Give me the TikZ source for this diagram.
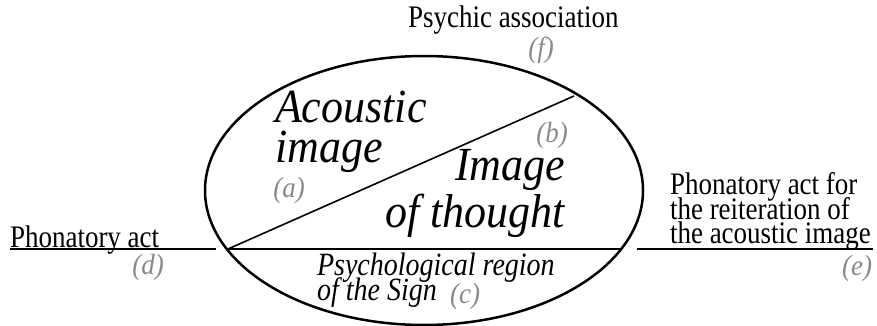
\documentclass[tikz,border=0pt]{standalone}
\usepackage{graphicx}
\usepackage{fontspec}
\setmainfont{Liberation Serif}
\usetikzlibrary{shapes.geometric}
\definecolor{labgray}{RGB}{136,136,144}
\newcommand\vtall[1]{\scalebox{1}[1.16]{#1}}
\newcommand\vtallb[1]{\scalebox{1}[1.08]{#1}}
\begin{document}
\begin{tikzpicture}[x=1pt,y=-1pt,
  txt/.style={inner sep=0pt,outer sep=0pt,font=\fontsize{27}{25}\selectfont},
  big/.style={inner sep=0pt,outer sep=0pt,font=\fontsize{44}{40}\selectfont\itshape},
  mid/.style={inner sep=0pt,outer sep=0pt,font=\fontsize{28}{25}\selectfont\itshape},
  lab/.style={inner sep=0pt,outer sep=0pt,text=labgray,font=\fontsize{27}{25}\selectfont\itshape},
  thin/.style={line width=1.6pt},
  oval/.style={draw,ellipse,line width=2.5pt,inner sep=0pt,outer sep=0pt,minimum width=438pt,minimum height=269pt}]
\useasboundingbox (0,0) rectangle (877,326);
% the sign
\node[oval] (sign) at (424,190.5) {};
\coordinate (dl) at (228,249);
\coordinate (dr) at (574,96);
\coordinate (hr) at (620,249);
\coordinate (ll) at (10,249);
\coordinate (lr) at (216,249);
\coordinate (rl) at (637,249);
\coordinate (rr) at (873,249);
\draw[thin] (dl) -- (dr);
\draw[thin] (dl) -- (hr);
\draw[thin] (ll) -- (lr);
\draw[thin] (rl) -- (rr);
% texts
\node[txt,anchor=base west] (psy) at (408,28) {\vtall{Psychic association}};
\node[lab] (f) at (541,50) {\vtallb{(f)}};
\node[big,anchor=base west] (ac1) at (275,122) {\vtallb{Acoustic}};
\node[big,anchor=base west] (ac2) at (275,162) {\vtallb{image}};
\node[lab] (a) at (289,190) {\vtallb{(a)}};
\node[lab] (b) at (552,135) {\vtallb{(b)}};
\node[big,anchor=base east] (th1) at (565,180) {\vtallb{Image}};
\node[big,anchor=base east] (th2) at (565,227) {\vtallb{of thought}};
\node[mid,anchor=base west] (ps1) at (317,275) {\vtall{Psychological region}};
\node[mid,anchor=base west] (ps2) at (317,300) {\vtall{of the Sign}};
\node[lab] (c) at (465,296) {\vtallb{(c)}};
\node[txt,anchor=base west] (ph) at (10,247.5) {\vtall{Phonatory act}};
\node[lab] (d) at (148,267) {\vtallb{(d)}};
\node[txt,anchor=base west] (r1) at (670,194.5) {\vtall{Phonatory act for}};
\node[txt,anchor=base west] (r2) at (670,219) {\vtall{the reiteration of}};
\node[txt,anchor=base west] (r3) at (670,243.5) {\vtall{the acoustic image}};
\node[lab] (e) at (857,268) {\vtallb{(e)}};
\end{tikzpicture}
\end{document}
